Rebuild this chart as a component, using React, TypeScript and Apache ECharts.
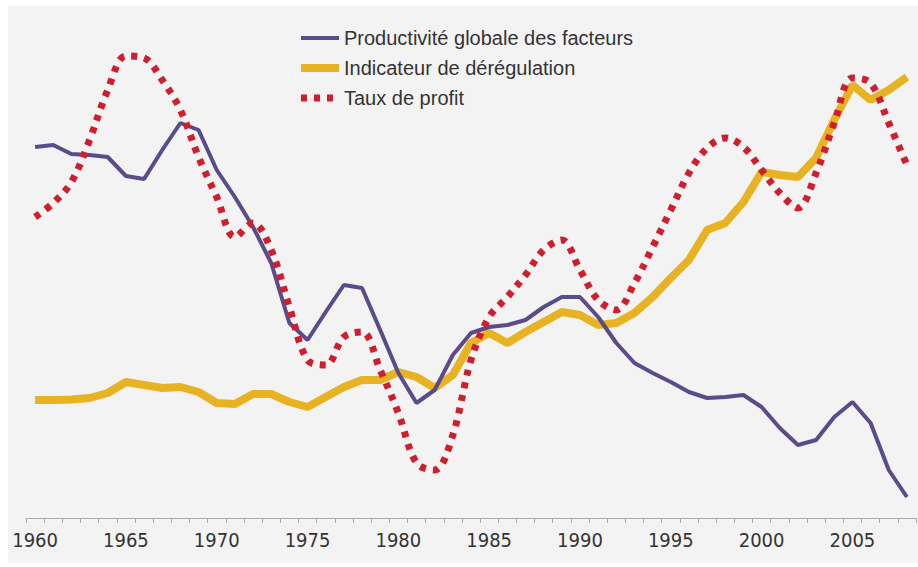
import React, { useEffect, useRef } from "react";
import * as echarts from "echarts";

const years: string[] = [];
for (let y = 1960; y <= 2008; y++) years.push(String(y));

const productivite = [
  74.2, 74.6, 72.8, 72.6, 72.2, 68.4, 67.8, 73.6, 79, 77.6,
  69.6, 64.2, 58.2, 51, 39, 35.6, 41.2, 46.6, 46, 37.6,
  29, 23, 25.6, 32.6, 37, 38.2, 38.6, 39.6, 42.2, 44.2,
  44.2, 40.2, 35, 31, 29, 27.2, 25.2, 24, 24.2, 24.6,
  22.2, 18, 14.6, 15.6, 20.2, 23.2, 19, 9.6, 4.2,
];

const deregulation = [
  23.6, 23.6, 23.7, 24, 25, 27.2, 26.6, 26, 26.2, 25.2,
  23, 22.8, 24.8, 24.8, 23.2, 22.2, 24.2, 26.2, 27.6, 27.6,
  29.2, 28.2, 26, 28.6, 35, 37, 35, 37.2, 39.2, 41.2,
  40.6, 38.6, 39, 41, 44.2, 48, 51.6, 57.6, 59, 63.2,
  69.2, 68.6, 68.2, 72, 79.6, 86.6, 83.6, 85.6, 88.2,
];

const profit = [
  60.2, 63, 67.2, 75.6, 85.6, 92.4, 92, 87.6, 81.6, 72.2,
  64.2, 56.2, 59, 53.6, 42.2, 31.6, 30.6, 36.2, 37.2, 29.6,
  21, 11, 9.6, 16.6, 31.6, 40.2, 44.2, 48.6, 53.6, 55.6,
  49.6, 43.6, 41.6, 47, 54.2, 61.6, 69, 74, 76, 74.2,
  69.6, 65, 62, 69, 79, 88, 87, 79, 70.6,
];

const seriesNames = [
  "Productivité globale des facteurs",
  "Indicateur de dérégulation",
  "Taux de profit",
];

const PURPLE = "#5b4b8a";
const YELLOW = "#e8b323";
const RED = "#cf1f2e";
const RED_DASH = [6, 7];

export default function App() {
  const ref = useRef<HTMLDivElement>(null);
  useEffect(() => {
    if (!ref.current) return;
    const chart = echarts.init(ref.current, undefined, { renderer: "svg" });
    chart.setOption({
      animation: false,
      backgroundColor: "#f3f3f3",
      grid: { left: 18, right: 2, top: 12, bottom: 45 },
      legend: {
        orient: "vertical",
        left: 289,
        top: 22,
        padding: 0,
        itemGap: 10,
        itemWidth: 38,
        itemHeight: 14,
        itemStyle: { opacity: 0 },
        textStyle: { fontFamily: "Liberation Sans, Arial, sans-serif", fontSize: 20, color: "#333" },
        data: [
          { name: seriesNames[0], lineStyle: { width: 4, color: PURPLE } },
          { name: seriesNames[1], lineStyle: { width: 8, color: YELLOW } },
          { name: seriesNames[2], lineStyle: { width: 7, color: RED, type: RED_DASH, cap: "butt" } },
        ],
      },
      xAxis: {
        type: "category",
        data: years,
        boundaryGap: true,
        axisLine: { lineStyle: { color: "#aaa", width: 1 } },
        axisTick: { show: true, interval: 0, length: 5, lineStyle: { color: "#aaa" } },
        axisLabel: {
          interval: 4,
          margin: 12,
          fontSize: 20,
          color: "#333",
          fontFamily:
            "'Liberation Sans Narrow', 'DejaVu Sans Condensed', 'Arial Narrow', 'Liberation Sans', sans-serif",
        },
        splitLine: { show: false },
      },
      yAxis: { type: "value", min: 0, max: 100, show: false, splitLine: { show: false } },
      series: [
        {
          name: seriesNames[0],
          type: "line",
          data: productivite,
          symbol: "none",
          z: 3,
          lineStyle: { color: PURPLE, width: 4 },
          itemStyle: { color: PURPLE },
        },
        {
          name: seriesNames[1],
          type: "line",
          data: deregulation,
          symbol: "none",
          z: 2,
          lineStyle: { color: YELLOW, width: 8 },
          itemStyle: { color: YELLOW },
        },
        {
          name: seriesNames[2],
          type: "line",
          data: profit,
          symbol: "none",
          smooth: 0.35,
          z: 4,
          lineStyle: { color: RED, width: 7, type: RED_DASH, cap: "butt" },
          itemStyle: { color: RED },
        },
      ],
    });
    return () => chart.dispose();
  }, []);
  return (
    <div
      ref={ref}
      style={{ position: "absolute", left: 8, top: 6, width: 910, height: 557 }}
    />
  );
}
